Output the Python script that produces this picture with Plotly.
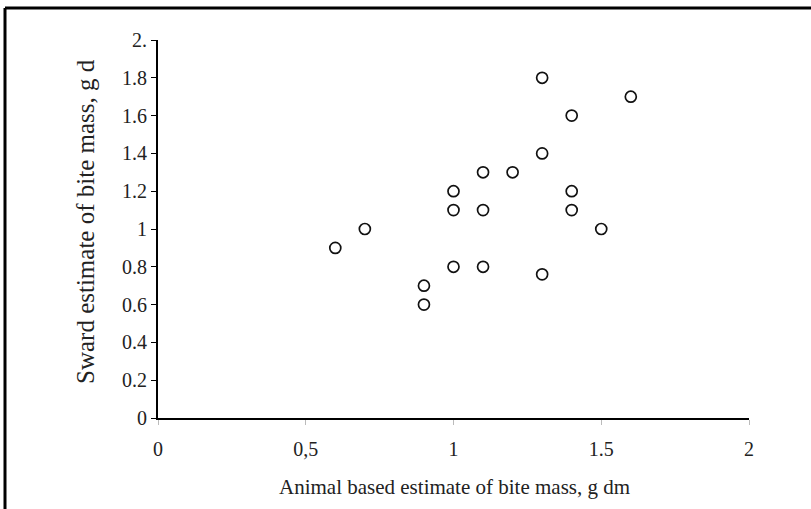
import plotly.graph_objects as go

animal = [0.6, 0.7, 0.9, 0.9, 1.0, 1.0, 1.0, 1.1, 1.1, 1.1, 1.2, 1.3, 1.3, 1.3, 1.4, 1.4, 1.4, 1.5, 1.6]
sward = [0.9, 1.0, 0.7, 0.6, 0.8, 1.1, 1.2, 1.3, 1.1, 0.8, 1.3, 1.8, 1.4, 0.76, 1.6, 1.2, 1.1, 1.0, 1.7]

x_ticks = [0, 0.5, 1, 1.5, 2]
x_tick_labels = ["0", "0,5", "1", "1.5", "2"]
y_ticks = [0, 0.2, 0.4, 0.6, 0.8, 1, 1.2, 1.4, 1.6, 1.8, 2]
y_tick_labels = ["0", "0.2", "0.4", "0.6", "0.8", "1", "1.2", "1.4", "1.6", "1.8", "2."]
x_title = "Animal based estimate of bite mass, g dm"
y_title = "Sward estimate of bite mass, g d"

W, H = 811, 509
L, R, T, B = 158, 62, 40, 91
pw, ph = W - L - R, H - T - B

tick_font = dict(family="Liberation Serif", size=20, color="#222")
xtitle_font = dict(family="Liberation Serif", size=21, color="#222")
ytitle_font = dict(family="Liberation Serif", size=25, color="#222")

fig = go.Figure()
fig.add_trace(go.Scatter(
    x=animal, y=sward, mode="markers",
    marker=dict(symbol="circle-open", size=11, color="#111", line=dict(width=1.7, color="#111")),
    showlegend=False,
))

def px_x(p):
    return (p - L) / pw

def px_y(p):
    return (H - B - p) / ph

fig.update_layout(
    width=W, height=H,
    margin=dict(l=L, r=R, t=T, b=B),
    paper_bgcolor="white", plot_bgcolor="white",
    font=tick_font,
    xaxis=dict(
        range=[0, 2], tickvals=x_ticks, ticktext=x_tick_labels,
        showgrid=False, zeroline=False, showline=True, linecolor="black", linewidth=2,
        ticks="outside", ticklen=5, tickcolor="#bbb", tickwidth=1,
        tickfont=tick_font, ticklabelstandoff=7,
        fixedrange=True,
    ),
    yaxis=dict(
        range=[0, 2], tickvals=y_ticks, ticktext=y_tick_labels,
        showgrid=False, zeroline=False, showline=True, linecolor="black", linewidth=2,
        ticks="outside", ticklen=5, tickcolor="black", tickwidth=1,
        tickfont=tick_font,
        fixedrange=True,
    ),
    annotations=[
        dict(text=x_title, xref="paper", yref="paper", x=px_x(454), y=px_y(487),
             xanchor="center", yanchor="middle", showarrow=False, font=xtitle_font),
        dict(text=y_title, xref="paper", yref="paper", x=px_x(85), y=px_y(222),
             xanchor="center", yanchor="middle", showarrow=False, textangle=-90, font=ytitle_font),
    ],
    shapes=[
        dict(type="line", xref="paper", yref="paper",
             x0=px_x(5), x1=px_x(W + 5), y0=px_y(8), y1=px_y(8),
             line=dict(color="black", width=3)),
        dict(type="line", xref="paper", yref="paper",
             x0=px_x(5), x1=px_x(5), y0=px_y(8), y1=px_y(H + 5),
             line=dict(color="black", width=3)),
    ],
)

fig.write_html("out.html")
